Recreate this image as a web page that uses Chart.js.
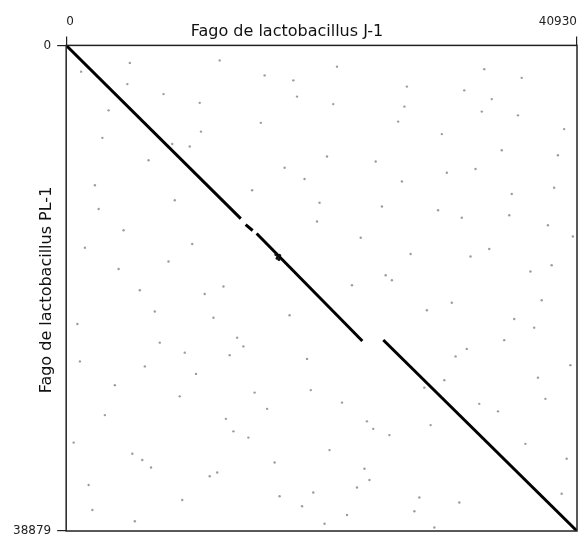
<!DOCTYPE html>
<html lang="es">
<head>
  <meta charset="UTF-8">
  <title>Fago de lactobacillus J-1 vs PL-1</title>
  <script src="https://cdn.jsdelivr.net/npm/chart.js"></script>
  <style>
    body { margin: 0; background: #fff; }
    .wrap { width: 582px; height: 535px; }
  </style>
</head>
<body>
  <div class="wrap"><canvas id="dotplot"></canvas></div>

  <script>
    // longitudes de los genomas
    const lenJ1 = 40930;
    const lenPL1 = 38879;
    const xTicks = [0, 40930];
    const yTicks = [0, 38879];

    // tramos de la diagonal (J-1 = x, PL-1 = y)
    const seg1X = [0, 13990];
    const seg1Y = [0, 13870];
    const seg2X = [14380, 14940];
    const seg2Y = [14350, 14820];
    const seg3X = [15260, 23730];
    const seg3Y = [15060, 23670];
    const seg4X = [25410, 40930];
    const seg4Y = [23590, 38879];

    // pequeña mancha junto a la diagonal
    const blobX = [16800, 16950, 17100, 16900, 17050];
    const blobY = [16750, 16900, 16800, 17050, 17150];

    // puntos sueltos de fondo (aprox.)
    const noiseX = [1200, 3400, 5100, 7800, 9900, 12300, 15600, 18200, 21400, 24800, 27300, 30100, 33500, 36200, 39400,
      2300, 4600, 8200, 11100, 14200, 17500, 20300, 23600, 26100, 29800, 32400, 35700, 38100,
      900, 6300, 9100, 13400, 16700, 19800, 22500, 25900, 28700, 31200, 34600, 37800, 40100,
      1800, 5500, 7100, 10400, 12800, 18900, 21100, 24300, 27900, 30900, 33100, 36800, 39700,
      2900, 4200, 8700, 11800, 15100, 19300, 22900, 26600, 29200, 32800, 35100, 38600,
      600, 3900, 6800, 10100, 13700, 17900, 20700, 24100, 28300, 31700, 34100, 37200, 40400,
      2100, 5900, 9500, 12100, 16100, 19100, 23300, 27100, 30500, 33900, 36500, 39100,
      1500, 4900, 7500, 10800, 14600, 18500, 22100, 25300, 28900, 31500, 34900, 38900,
      3100, 6600, 9300, 12600, 15900, 20100, 23900, 26900, 30300, 33300, 37500, 40600,
      1100, 5300, 8500, 11500, 14900, 19600, 21700, 25600, 29500, 32100, 35500, 39900,
      2600, 6100, 10700, 13100, 17100, 20900, 24600, 27600, 31900, 35900, 38400];
    const noiseY = [2100, 5200, 1400, 3900, 8100, 1200, 6200, 2800, 4700, 9300, 3300, 7100, 1900, 5600, 8800,
      11200, 14800, 17300, 19900, 24100, 9800, 12600, 15400, 18800, 13200, 16900, 11900, 20400,
      22300, 25700, 28100, 30900, 33400, 35800, 37600, 31200, 27400, 24900, 29300, 26600, 33100,
      35200, 38100, 21300, 26300, 29900, 36900, 32400, 34800, 37300, 20600, 28700, 31900, 35900,
      7400, 17900, 12400, 21800, 27800, 25100, 19200, 6100, 30400, 9900, 23600, 14400,
      31800, 27200, 33800, 15900, 23400, 21600, 38300, 30100, 36200, 13800, 4300, 18100, 25600,
      37200, 19600, 24600, 34200, 29100, 10700, 35400, 4900, 10200, 16300, 2600, 11400,
      16200, 3100, 23800, 6900, 31400, 4100, 28600, 12900, 21200, 36600, 8400, 17600,
      29600, 9200, 36400, 19300, 2400, 14100, 33900, 10900, 26800, 5300, 22600, 15300,
      25300, 32700, 7900, 34500, 11600, 27600, 1700, 18400, 38600, 24300, 13600, 6700,
      13100, 33200, 4600, 24800, 36100, 8900, 30700, 16700, 3600, 21900, 28300];

    const toPts = (xs, ys) => xs.map((x, i) => ({ x: x, y: ys[i] }));

    const lineStyle = {
      showLine: true,
      borderColor: '#000',
      borderWidth: 3,
      pointRadius: 0,
      borderCapStyle: 'butt'
    };

    const framePlugin = {
      id: 'frame',
      afterDatasetsDraw(chart) {
        const { ctx, chartArea: a } = chart;
        ctx.save();
        ctx.strokeStyle = '#222';
        ctx.lineWidth = 1.5;
        ctx.strokeRect(a.left, a.top, a.right - a.left, a.bottom - a.top);
        ctx.restore();
      },
      afterDraw(chart) {
        const { ctx } = chart;
        ctx.save();
        ctx.fillStyle = '#111';
        ctx.font = '16px "DejaVu Sans", sans-serif';
        ctx.textAlign = 'center';
        ctx.textBaseline = 'middle';
        ctx.fillText('Fago de lactobacillus J-1', 287, 32);
        ctx.translate(47, 290);
        ctx.rotate(-Math.PI / 2);
        ctx.fillText('Fago de lactobacillus PL-1', 0, 0);
        ctx.restore();
      }
    };

    // sin margen extra para las etiquetas de los extremos
    const noEdgePad = s => { s.paddingTop = 0; s.paddingBottom = 0; s.paddingLeft = 0; s.paddingRight = 0; };

    new Chart(document.getElementById('dotplot'), {
      type: 'scatter',
      data: {
        datasets: [
          { data: toPts(noiseX, noiseY), pointRadius: 1.2, pointBackgroundColor: 'rgba(90,90,90,0.6)', pointBorderWidth: 0 },
          { data: toPts(blobX, blobY), pointRadius: 1.5, pointBackgroundColor: '#111', pointBorderWidth: 0 },
          Object.assign({ data: toPts(seg1X, seg1Y) }, lineStyle),
          Object.assign({ data: toPts(seg2X, seg2Y) }, lineStyle),
          Object.assign({ data: toPts(seg3X, seg3Y) }, lineStyle),
          Object.assign({ data: toPts(seg4X, seg4Y) }, lineStyle)
        ]
      },
      options: {
        responsive: true,
        maintainAspectRatio: false,
        animation: false,
        layout: { padding: { top: 8, right: 5, bottom: 0, left: 7 } },
        plugins: {
          legend: { display: false },
          tooltip: { enabled: false }
        },
        scales: {
          x: {
            type: 'linear',
            position: 'top',
            min: 0,
            max: lenJ1,
            afterBuildTicks: s => { s.ticks = xTicks.map(v => ({ value: v })); },
            afterFit: noEdgePad,
            ticks: {
              align: 'inner',
              padding: 7,
              color: '#222',
              font: { family: 'DejaVu Sans', size: 12 },
              callback: v => String(v)
            },
            grid: { drawOnChartArea: false, drawTicks: true, tickLength: 9, color: '#222', lineWidth: 1.2 },
            border: { display: false }
          },
          y: {
            type: 'linear',
            reverse: true,
            min: 0,
            max: lenPL1,
            afterBuildTicks: s => { s.ticks = yTicks.map(v => ({ value: v })); },
            afterFit: noEdgePad,
            ticks: {
              padding: 6,
              color: '#222',
              font: { family: 'DejaVu Sans', size: 12 },
              callback: v => String(v)
            },
            grid: { drawOnChartArea: false, drawTicks: true, tickLength: 9, color: '#222', lineWidth: 1.2 },
            border: { display: false }
          }
        }
      },
      plugins: [framePlugin]
    });
  </script>
</body>
</html>
